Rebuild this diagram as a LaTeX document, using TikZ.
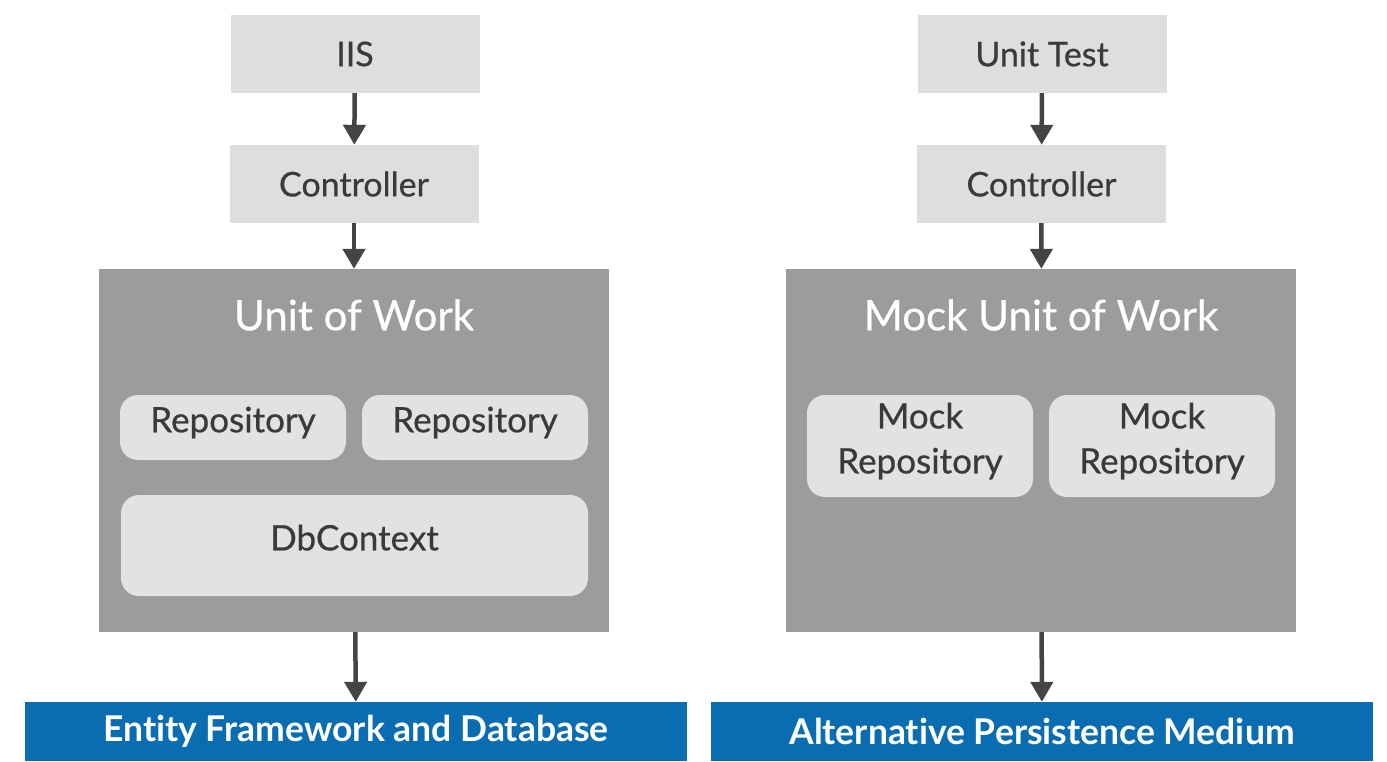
\documentclass[tikz,border=0pt]{standalone}
\usepackage{fontspec}
\setmainfont{Lato}[Ligatures=NoCommon, FakeBold=0.6,
  BoldFont=Lato Bold, BoldFeatures={FakeBold=0}]
\usetikzlibrary{arrows.meta}

\definecolor{boxgray}{HTML}{DEDEDE}
\definecolor{uowgray}{HTML}{9C9C9E}
\definecolor{repogray}{HTML}{E2E2E2}
\definecolor{barblue}{HTML}{0A6DB1}
\definecolor{arrowgray}{HTML}{444444}
\definecolor{textgray}{HTML}{3A3A3A}

\tikzset{
  lightbox/.style={fill=boxgray, text=textgray, minimum width=249pt,
    minimum height=78pt, inner sep=0pt, font=\fontsize{34}{40}\selectfont},
  uowbox/.style={fill=uowgray, minimum width=510pt, minimum height=363pt,
    inner sep=0pt},
  uowtitle/.style={text=white, font=\fontsize{42}{48}\selectfont},
  repobox/.style={fill=repogray, text=textgray, rounded corners=18pt,
    minimum width=226pt, inner sep=0pt, align=center, text depth=16pt,
    font=\fontsize{35}{45}\selectfont},
  basebar/.style={fill=barblue, text=white, minimum width=662pt,
    minimum height=59pt, inner sep=0pt,
    font=\bfseries\fontsize{35.5}{40}\selectfont},
  flow/.style={draw=arrowgray, line width=4.5pt,
    -{Triangle[width=22pt,length=20pt]}},
}

\begin{document}
\begin{tikzpicture}[x=1pt, y=-1pt]
    \useasboundingbox [fill=white] (0, 0) rectangle (1387, 761);

    % Production side
    \node [lightbox] (iis) at (355, 54) {IIS};
    \node [lightbox] (ctrl) at (354, 184) {Controller};
    \node [uowbox] (uow) at (354, 450.5) {};
    \node [uowtitle] (uowname) at (354, 315) {Unit of Work};
    \node [repobox, minimum height=65pt] (repoa) at (233, 427.5) {Repository};
    \node [repobox, minimum height=65pt] (repob) at (475, 427.5) {Repository};
    \node [repobox, minimum width=467pt, minimum height=101pt] (dbctx)
          at (354.5, 545.5) {DbContext};
    \node [basebar] (ef) at (356, 731.5) {Entity Framework and Database};

    % Edges
    \draw [flow] (iis) -- (ctrl);
    \draw [flow] (ctrl) -- (uow);
    \draw [flow] (uow) -- (ef);

    % Test side
    \node [lightbox] (test) at (1042, 54) {Unit Test};
    \node [lightbox] (mockctrl) at (1041.5, 184) {Controller};
    \node [uowbox] (mockuow) at (1041, 450.5) {};
    \node [uowtitle] (mockname) at (1041, 315) {Mock Unit of Work};
    \node [repobox, minimum height=102pt] (mockrepoa) at (920, 446)
          {Mock\\Repository};
    \node [repobox, minimum height=102pt] (mockrepob) at (1162, 446)
          {Mock\\Repository};
    \node [basebar] (alt) at (1042, 731.5) {Alternative Persistence Medium};

    % Edges
    \draw [flow] (test) -- (mockctrl);
    \draw [flow] (mockctrl) -- (mockuow);
    \draw [flow] (mockuow) -- (alt);
\end{tikzpicture}
\end{document}
